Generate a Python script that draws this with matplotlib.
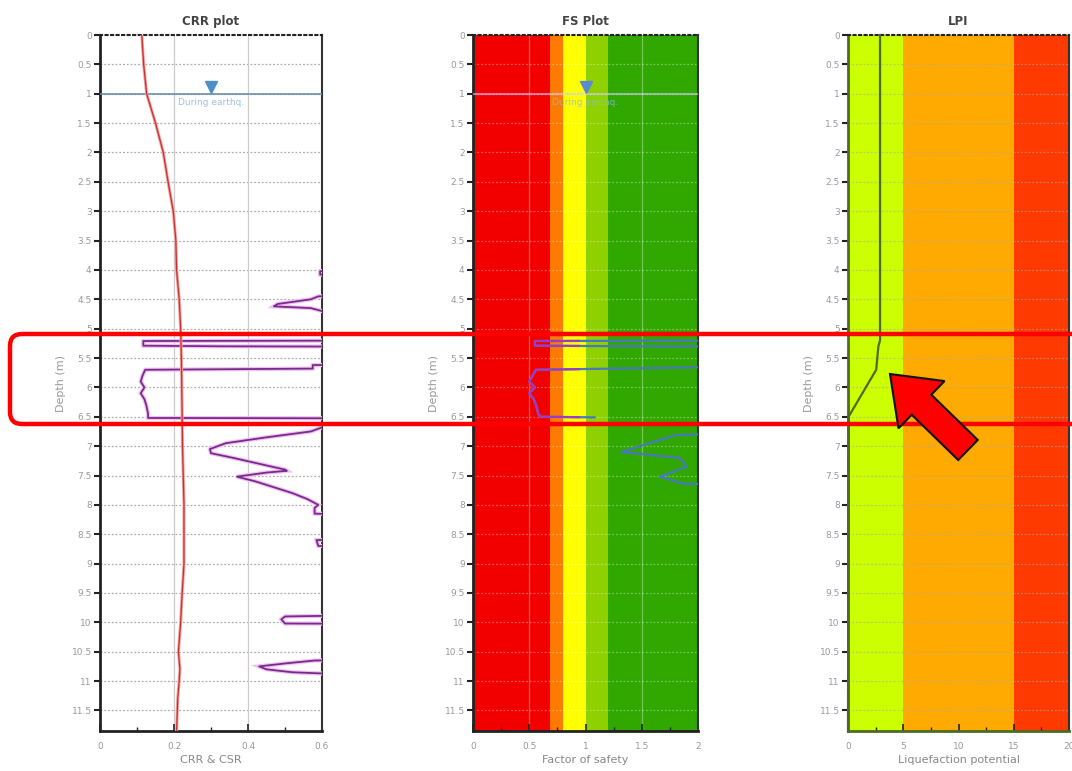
import matplotlib
matplotlib.use("Agg")
import matplotlib.pyplot as plt
import numpy as np
from matplotlib.patches import Rectangle, FancyBboxPatch, FancyArrow
from matplotlib.ticker import MultipleLocator, FormatStrFormatter

# CSR (red) line in the CRR plot
csr_depth = [0, 0.5, 1, 1.5, 2, 2.5, 3, 3.5, 4, 4.5, 5, 5.5, 6, 6.5, 7, 7.5, 8, 8.5, 9,
             9.5, 10, 10.5, 10.8, 11, 11.3, 11.5, 11.85]
csr_value = [0.113, 0.118, 0.126, 0.150, 0.171, 0.184, 0.198, 0.205, 0.207, 0.214, 0.218,
             0.220, 0.221, 0.222, 0.223, 0.225, 0.227, 0.227, 0.227, 0.222, 0.218, 0.212,
             0.216, 0.214, 0.210, 0.209, 0.207]

# CRR (purple) line, values above 0.6 are off scale
crr_depth = [0, 4.0, 4.02, 4.08, 4.1, 4.4, 4.45, 4.5, 4.58, 4.62, 4.65, 4.7, 4.75,
             5.2, 5.21, 5.29, 5.30, 5.31, 5.6, 5.62, 5.68, 5.70, 5.8, 5.9, 6.0, 6.1,
             6.2, 6.3, 6.45, 6.52, 6.53, 6.65, 6.68, 6.75, 6.85, 6.95, 7.05, 7.12, 7.2,
             7.3, 7.4, 7.42, 7.45, 7.52, 7.6, 7.7, 7.8, 7.9, 8.0, 8.05, 8.15, 8.2,
             8.55, 8.6, 8.7, 8.72, 9.85, 9.9, 9.95, 10.02, 10.03, 10.62, 10.65, 10.7,
             10.75, 10.8, 10.85, 10.87, 10.9, 11.85]
crr_value = [1.0, 1.0, 0.595, 0.595, 1.0, 1.0, 0.59, 0.57, 0.48, 0.47, 0.57, 0.6, 1.0,
             1.0, 0.117, 0.117, 0.33, 1.0, 1.0, 0.575, 0.575, 0.122, 0.115, 0.11, 0.12,
             0.11, 0.12, 0.125, 0.13, 0.13, 1.0, 1.0, 0.6, 0.57, 0.45, 0.34, 0.297,
             0.30, 0.36, 0.43, 0.50, 0.505, 0.45, 0.37, 0.42, 0.47, 0.52, 0.56, 0.59,
             0.58, 0.58, 1.0, 1.0, 0.585, 0.59, 1.0, 1.0, 0.50, 0.49, 0.50, 1.0, 1.0,
             0.58, 0.50, 0.43, 0.45, 0.52, 0.60, 1.0, 1.0]

# Factor of safety, values above 2 are off scale
fs_depth = [5.2, 5.21, 5.29, 5.30, 5.31, 5.62, 5.64, 5.70, 5.8, 5.9, 6.0, 6.1, 6.2,
            6.3, 6.45, 6.5, 6.51, np.nan, 6.75, 6.81, 7.1, 7.2, 7.35, 7.52, 7.64, 7.7]
fs_value = [3.0, 0.55, 0.55, 1.5, 3.0, 3.0, 2.6, 0.56, 0.53, 0.50, 0.55, 0.50, 0.54,
            0.56, 0.58, 0.60, 1.08, np.nan, 3.0, 1.80, 1.32, 1.84, 1.90, 1.66, 1.87, 3.0]

# LPI cumulative line
lpi_depth = [0, 5.2, 5.3, 5.7, 6.5, 11.85]
lpi_value = [2.9, 2.9, 2.75, 2.55, 0.05, 0.0]

fs_band_edges = [0, 0.68, 0.8, 1.0, 1.2, 2.0]
fs_band_colors = ["#f20000", "#ff7a00", "#ffff00", "#8fd000", "#30a800"]
lpi_band_edges = [0, 5, 15, 20]
lpi_band_colors = ["#ccff00", "#ffaa00", "#ff3a00"]

water_depth = 1.0
max_depth = 11.85

fig = plt.figure(figsize=(10.72, 7.71), dpi=100)
bottom = 1 - 731 / 771
height = (731 - 35) / 771
ax1 = fig.add_axes([100 / 1072, bottom, 222 / 1072, height])
ax2 = fig.add_axes([473 / 1072, bottom, 225 / 1072, height])
ax3 = fig.add_axes([848 / 1072, bottom, 221 / 1072, height])


def style_axes(ax, title, xlabel, xmax, xmajor, xminor, grid_color, grid_alpha):
    ax.set_ylim(max_depth, 0)
    ax.set_xlim(0, xmax)
    ax.set_title(title, fontsize=8.5, color="#444444", fontweight="bold", pad=7)
    ax.set_xlabel(xlabel, fontsize=8, color="#888888", labelpad=3)
    ax.set_ylabel("Depth (m)", fontsize=8, color="#999999", labelpad=4)
    ax.yaxis.set_major_locator(MultipleLocator(0.5))
    ax.yaxis.set_major_formatter(FormatStrFormatter("%g"))
    ax.xaxis.set_major_locator(MultipleLocator(xmajor))
    ax.xaxis.set_minor_locator(MultipleLocator(xminor))
    ax.xaxis.set_major_formatter(FormatStrFormatter("%g"))
    ax.tick_params(axis="y", direction="out", length=4, width=1.5, color="#222222",
                   labelsize=6.5, labelcolor="#999999", pad=2)
    ax.tick_params(axis="x", which="major", direction="in", length=5, width=1.2,
                   color="#222222", labelsize=6.5, labelcolor="#999999", pad=8)
    ax.tick_params(axis="x", which="minor", direction="in", length=3, width=1.0,
                   color="#222222")
    for s in ["left", "bottom"]:
        ax.spines[s].set_linewidth(2)
        ax.spines[s].set_color("#222222")
    ax.spines["right"].set_linewidth(1.5)
    ax.spines["right"].set_color("#333333")
    ax.spines["top"].set_linestyle(":")
    ax.spines["top"].set_linewidth(1.5)
    ax.spines["top"].set_color("#222222")
    for d in np.arange(0.5, max_depth, 0.5):
        ax.axhline(d, color=grid_color, alpha=grid_alpha, lw=0.9, ls=(0, (1.5, 1.5)),
                   zorder=1)


# CRR plot
style_axes(ax1, "CRR plot", "CRR & CSR", 0.6, 0.2, 0.1, "#999999", 0.8)
for xv in [0.2, 0.4]:
    ax1.axvline(xv, color="#cccccc", lw=0.9, zorder=1)
ax1.axhline(water_depth, color="#6d8ea6", lw=1.2, zorder=3)
ax1.plot([0.30], [0.88], marker="v", color="#4f8fc8", markersize=9, zorder=4)
ax1.text(0.30, 1.08, "During earthq.", color="#9fc0dc", fontsize=6.5, ha="center",
         va="top", zorder=4)
ax1.plot(crr_value, crr_depth, color="#f0c0f0", lw=3.0, zorder=4,
         solid_joinstyle="miter")
ax1.plot(crr_value, crr_depth, color="#7a2a8c", lw=1.3, zorder=5)
ax1.plot(csr_value, csr_depth, color="#f4a0a0", lw=2.2, zorder=5)
ax1.plot(csr_value, csr_depth, color="#c83030", lw=0.9, zorder=6)

# FS plot
style_axes(ax2, "FS Plot", "Factor of safety", 2.0, 0.5, 0.25, "#ffffff", 0.35)
for i, c in enumerate(fs_band_colors):
    ax2.axvspan(fs_band_edges[i], fs_band_edges[i + 1], color=c, zorder=0, lw=0)
for xv in [0.5, 1.5]:
    ax2.axvline(xv, color="#ffffff", alpha=0.35, lw=0.9, zorder=1)
ax2.axhline(water_depth, color="#d0c8ff", alpha=0.6, lw=1.5, zorder=3)
ax2.plot([1.0], [0.88], marker="v", color="#5a8ad0", markersize=9, zorder=4)
ax2.text(1.0, 1.08, "During earthq.", color="#8fb8e0", fontsize=6.5, ha="center",
         va="top", alpha=0.8, zorder=4)
ax2.plot(fs_value, fs_depth, color="#4a78c0", lw=1.6, zorder=5)
low = ax2.plot(fs_value, fs_depth, color="#9b3cc8", lw=1.6, zorder=6)[0]
low.set_clip_path(Rectangle((0, 0), 0.95, max_depth, transform=ax2.transData))

# LPI plot
style_axes(ax3, "LPI", "Liquefaction potential", 20, 5, 2.5, "#aaaaaa", 0.6)
for i, c in enumerate(lpi_band_colors):
    ax3.axvspan(lpi_band_edges[i], lpi_band_edges[i + 1], color=c, zorder=0, lw=0)
ax3.plot(lpi_value, lpi_depth, color="#4d6b22", lw=1.6, zorder=5, clip_on=False)
ax3.spines["left"].set_color("#4d6b22")
ax3.spines["bottom"].set_color("#4d6b22")

# highlight box and arrow drawn over the figure in pixel units
ov = fig.add_axes([0, 0, 1, 1], zorder=20)
ov.set_xlim(0, 1072)
ov.set_ylim(771, 0)
ov.axis("off")
ov.add_patch(FancyBboxPatch((10, 334), 1100, 90,
                            boxstyle="round,pad=0,rounding_size=12",
                            fill=False, ec="#ff0000", lw=3.2))
ov.add_patch(FancyArrow(968, 450, -78, -76, width=28, head_width=66, head_length=44,
                        length_includes_head=True, fc="#ff0000", ec="#111111", lw=1.5))

fig.savefig("out.png", dpi=100)
